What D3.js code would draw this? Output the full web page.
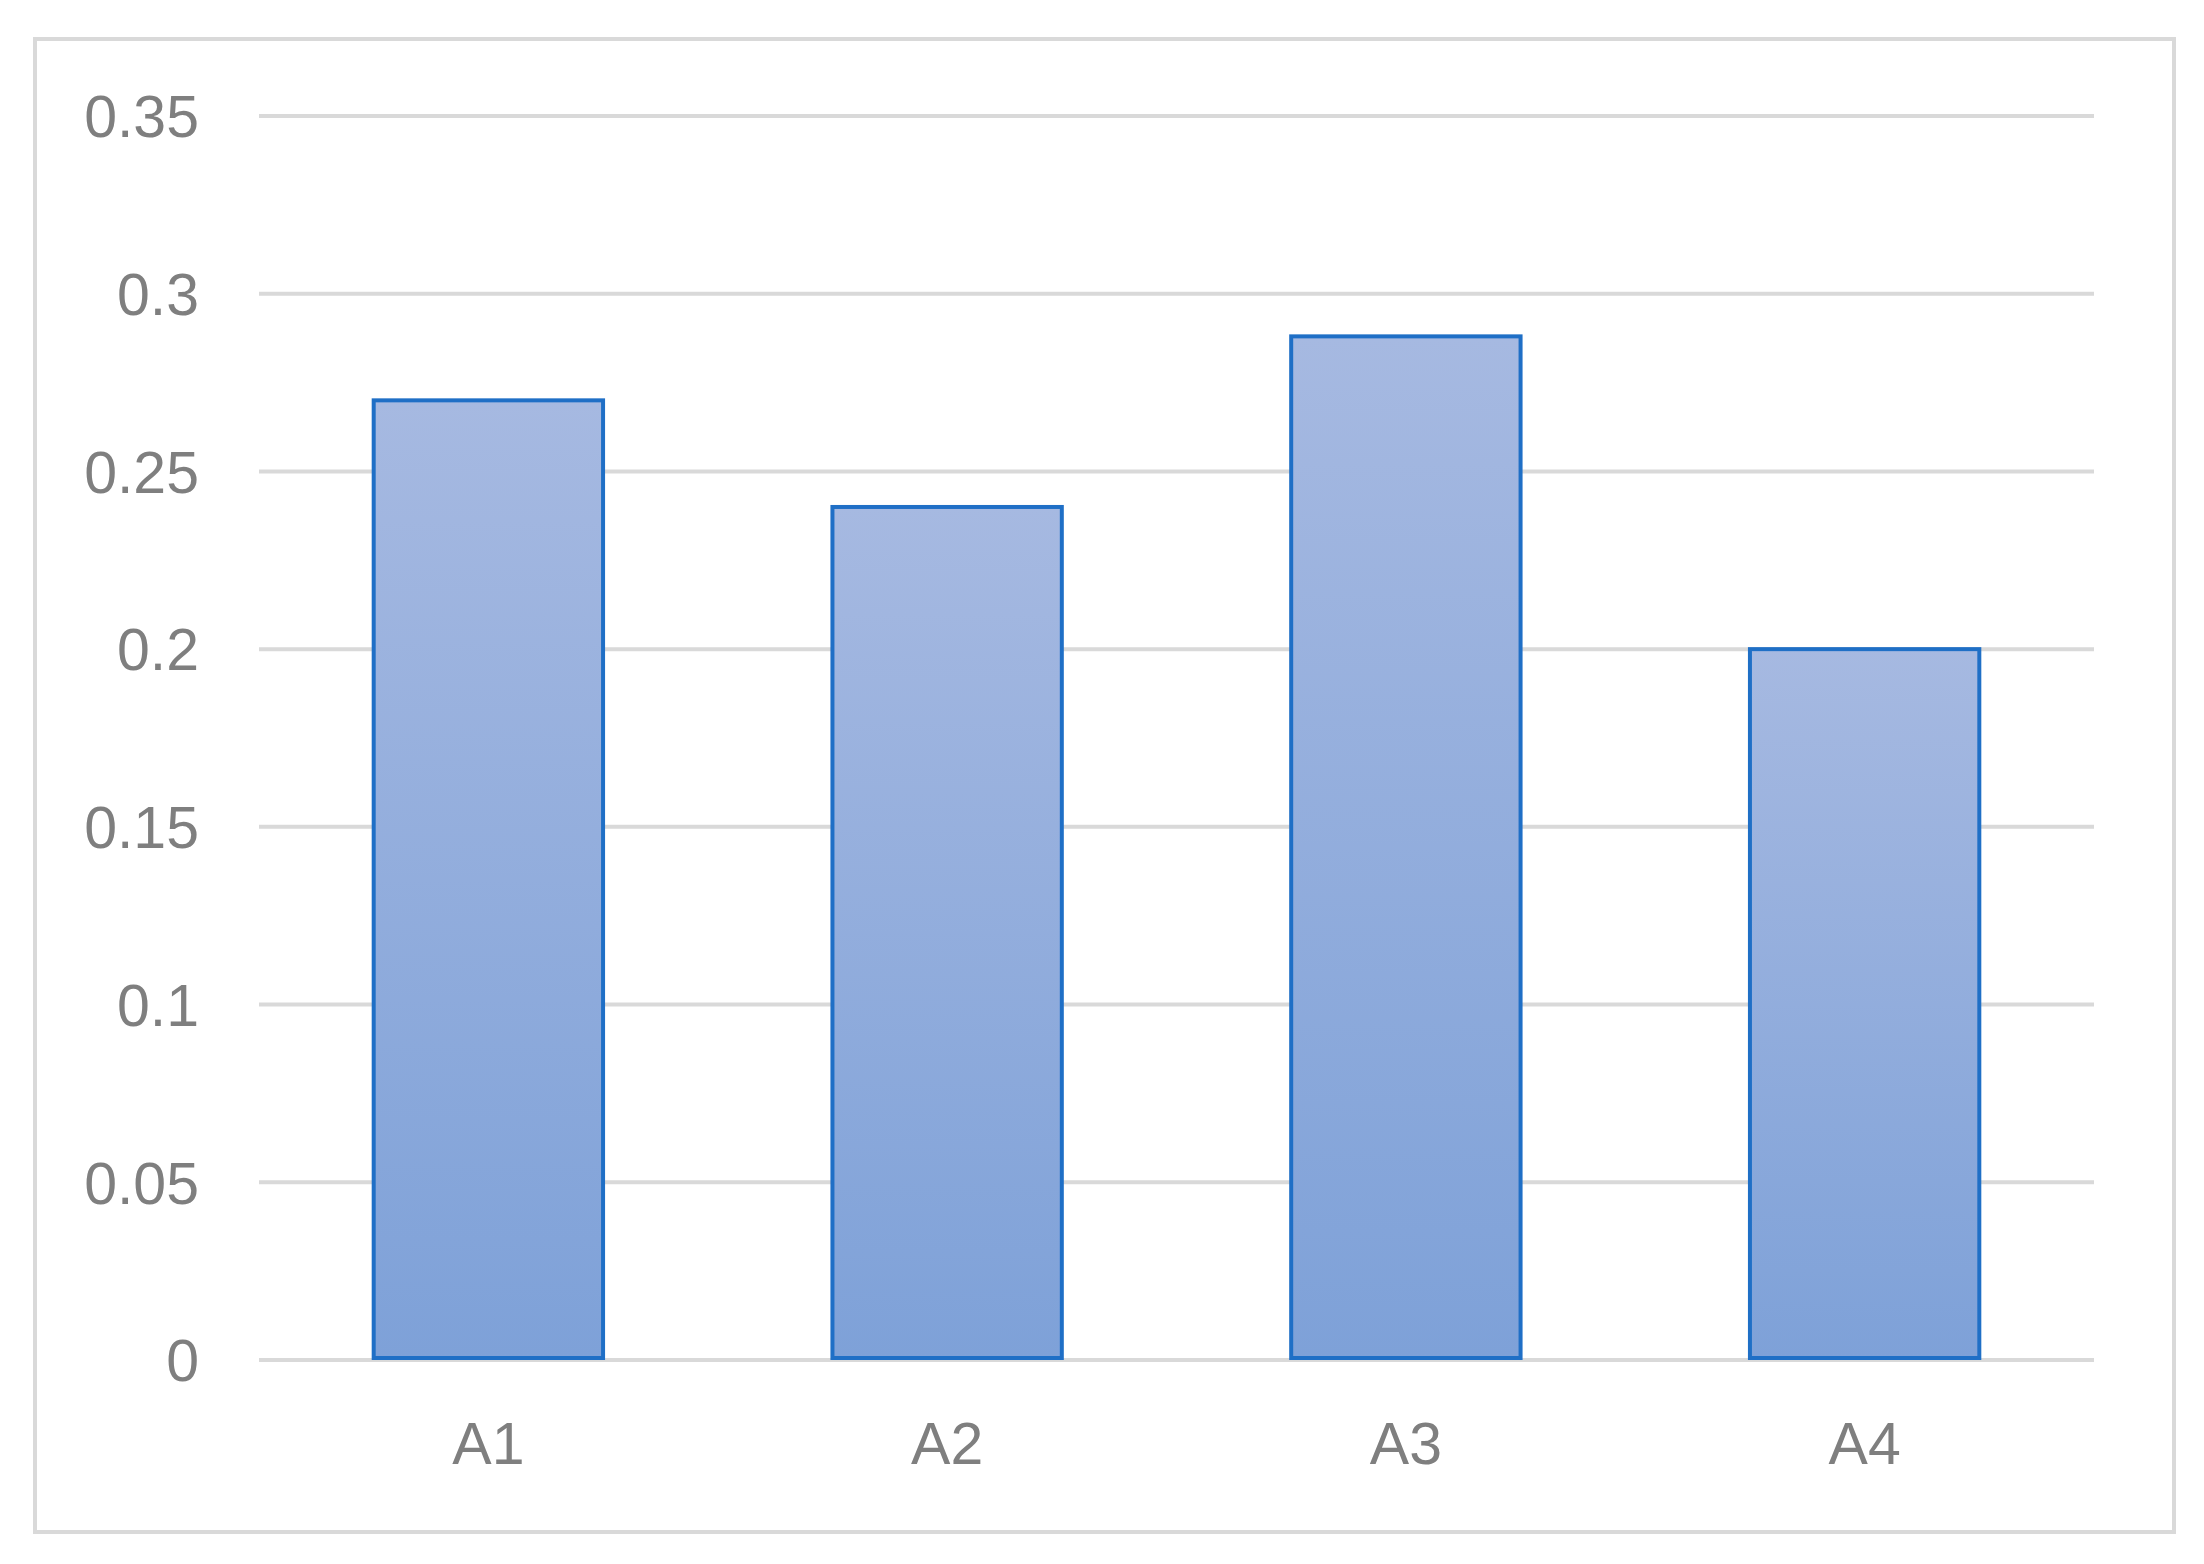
<!DOCTYPE html>
<html>
<head>
<meta charset="utf-8">
<script src="https://cdn.jsdelivr.net/npm/d3@7"></script>
<style>
  html, body { margin: 0; padding: 0; background: #fff; }
  svg { display: block; }
</style>
</head>
<body>
<svg id="chart" width="2204" height="1564"></svg>
<script>
// data
const categories = ["A1", "A2", "A3", "A4"];
const values = [0.27, 0.24, 0.288, 0.20];
const yTicks = [0, 0.05, 0.1, 0.15, 0.2, 0.25, 0.3, 0.35];

const svg = d3.select("#chart");
const width = +svg.attr("width");
const height = +svg.attr("height");

const plot = { left: 259, right: 2094, top: 116, bottom: 1360 };

// рамка вокруг диаграммы
svg.append("rect")
    .attr("x", 35).attr("y", 39)
    .attr("width", 2139).attr("height", 1493)
    .attr("fill", "#fff")
    .attr("stroke", "#d9d9d9")
    .attr("stroke-width", 4);

// градиент для столбцов
const grad = svg.append("defs").append("linearGradient")
    .attr("id", "barFill")
    .attr("x1", 0).attr("y1", 0).attr("x2", 0).attr("y2", 1);
grad.append("stop").attr("offset", "0%").attr("stop-color", "#a6b9e1");
grad.append("stop").attr("offset", "100%").attr("stop-color", "#7ea1d8");

const x = d3.scaleBand()
    .domain(categories)
    .range([plot.left, plot.right])
    .paddingInner(0.5)
    .paddingOuter(0.25);

const y = d3.scaleLinear()
    .domain([0, 0.35])
    .range([plot.bottom, plot.top]);

// сетка
svg.append("g")
    .selectAll("line")
    .data(yTicks)
    .enter().append("line")
    .attr("x1", plot.left)
    .attr("x2", plot.right)
    .attr("y1", d => y(d))
    .attr("y2", d => y(d))
    .attr("stroke", "#d9d9d9")
    .attr("stroke-width", 4);

// подписи оси Y
svg.append("g")
    .selectAll("text")
    .data(yTicks)
    .enter().append("text")
    .attr("x", 199)
    .attr("y", d => y(d))
    .attr("dy", "0.36em")
    .attr("text-anchor", "end")
    .style("font", "59px 'Liberation Sans', Arial, sans-serif")
    .style("fill", "#7f7f7f")
    .text(d => String(+d.toFixed(2)));

// столбцы
svg.append("g")
    .selectAll("rect")
    .data(values)
    .enter().append("rect")
    .attr("x", (d, i) => x(categories[i]))
    .attr("y", d => y(d))
    .attr("width", x.bandwidth())
    .attr("height", d => y(0) - y(d) - 2)
    .attr("fill", "url(#barFill)")
    .attr("stroke", "#1f6fc6")
    .attr("stroke-width", 4);

// подписи оси X
svg.append("g")
    .selectAll("text")
    .data(categories)
    .enter().append("text")
    .attr("x", d => x(d) + x.bandwidth() / 2)
    .attr("y", 1443)
    .attr("dy", "0.36em")
    .attr("text-anchor", "middle")
    .style("font", "59px 'Liberation Sans', Arial, sans-serif")
    .style("fill", "#7f7f7f")
    .text(d => d);
</script>
</body>
</html>
